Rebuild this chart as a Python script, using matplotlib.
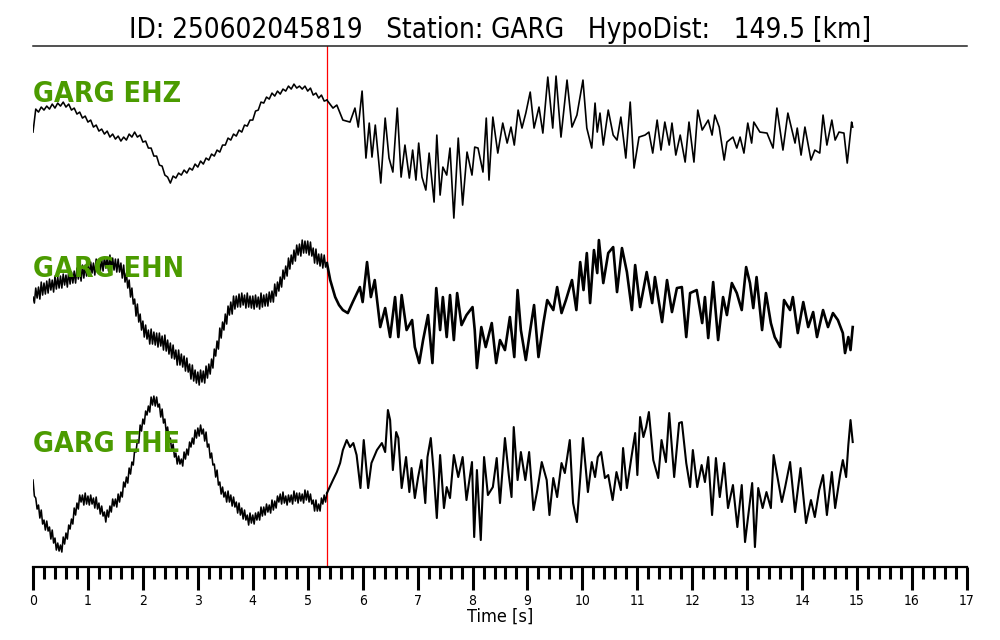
import numpy as np
import matplotlib
matplotlib.use('Agg')
import matplotlib.pyplot as plt
from matplotlib.ticker import MultipleLocator

plt.rcParams['font.family'] = ['DejaVu Sans']
plt.rcParams['font.stretch'] = 'condensed'

event_id = "250602045819"
station = "GARG"
hypo_dist = 149.5
channels = ["EHZ", "EHN", "EHE"]
p_pick = 5.35          # s
# sampling (s) of the quiet part before the pick, per channel
dt_pre = [0.05, 0.025, 0.025]

## amplitudes (arbitrary units, + is up)
ehz_pre = [-2, 21, 18, 23, 20, 24, 21, 26, 22, 27,
           24, 28, 23, 26, 20, 22, 16, 18, 12, 14,
           8, 10, 3, 5, -1, 1, -4, -1, -7, -4,
           -9, -6, -11, -7, -10, -4, -7, -2, -7, -5,
           -12, -11, -18, -18, -26, -26, -35, -36, -45, -47,
           -53, -46, -48, -43, -45, -40, -43, -38, -40, -34,
           -37, -31, -34, -28, -30, -24, -26, -20, -22, -15,
           -15, -8, -10, -4, -6, 0, -2, 5, 4, 10,
           10, 19, 20, 28, 27, 33, 31, 37, 34, 39,
           36, 41, 39, 44, 41, 46, 42, 44, 41, 44,
           39, 42, 35, 37, 32, 35, 29]
ehz_post_t = [5.35, 5.46, 5.53, 5.64, 5.77, 5.86, 5.92, 5.99, 6.06, 6.12,
              6.17, 6.23, 6.33, 6.41, 6.48, 6.55, 6.63, 6.70, 6.77, 6.85,
              6.91, 6.97, 7.02, 7.08, 7.15, 7.21, 7.30, 7.35, 7.41, 7.46,
              7.53, 7.59, 7.66, 7.74, 7.82, 7.90, 7.99, 8.04, 8.10, 8.19,
              8.25, 8.30, 8.37, 8.46, 8.55, 8.63, 8.70, 8.76, 8.83, 8.90,
              8.97, 9.05, 9.12, 9.21, 9.28, 9.37, 9.46, 9.52, 9.61, 9.72,
              9.81, 9.90, 10.01, 10.08, 10.17, 10.23, 10.27, 10.32, 10.38, 10.47,
              10.56, 10.63, 10.70, 10.79, 10.87, 10.94, 11.03, 11.14, 11.21, 11.28,
              11.36, 11.43, 11.50, 11.58, 11.63, 11.70, 11.78, 11.87, 11.94, 12.03,
              12.10, 12.18, 12.29, 12.36, 12.41, 12.49, 12.58, 12.63, 12.74, 12.81,
              12.87, 12.94, 13.01, 13.08, 13.12, 13.23, 13.36, 13.47, 13.54, 13.65,
              13.74, 13.87, 13.91, 13.98, 14.05, 14.16, 14.23, 14.32, 14.38, 14.45,
              14.54, 14.60, 14.67, 14.76, 14.82, 14.90, 14.92]
ehz_post_v = [30, 22, 25, 10, 8, 22, 3, 39, -28, 7,
              -27, 5, -53, 12, -28, -42, 22, -47, -15, -48,
              -20, -50, -13, -47, -60, -23, -72, -5, -65, -37,
              -45, -18, -88, -8, -75, -22, -45, -17, -18, -42,
              12, -50, 13, -23, 7, -13, 3, -15, 20, 2,
              17, 38, 2, 23, -3, 53, 2, 54, -7, 50,
              3, 15, 50, 2, -18, 27, -2, 17, -15, 20,
              -5, -10, 13, -28, 28, -38, -7, -5, -2, -23,
              10, -20, 8, -15, 7, -25, -5, -32, 8, -32,
              20, 0, 10, -5, 15, 3, -30, -12, -7, -18,
              -7, -23, 7, -13, 8, -2, -3, -18, 22, -20,
              17, -13, 2, -25, 3, -30, -20, -23, 15, -15,
              10, -10, -2, -3, -33, 8, 3]

ehn_pre = [8, 2, 17, 7, 18, 6, 23, 10, 22, 11,
           24, 12, 26, 15, 25, 13, 29, 16, 28, 17,
           29, 17, 31, 20, 30, 18, 34, 21, 33, 22,
           34, 22, 37, 26, 36, 24, 40, 27, 40, 29,
           41, 29, 43, 32, 42, 30, 46, 33, 45, 34,
           46, 34, 48, 37, 47, 34, 50, 36, 47, 35,
           46, 33, 46, 33, 42, 27, 40, 23, 32, 17,
           25, 8, 17, 1, 6, -11, 1, -17, -9, -25,
           -16, -32, -20, -34, -25, -39, -24, -39, -27, -40,
           -28, -42, -28, -41, -31, -45, -30, -46, -35, -49,
           -38, -53, -40, -54, -45, -60, -45, -60, -49, -62,
           -51, -66, -53, -67, -59, -74, -60, -76, -65, -78,
           -67, -80, -65, -77, -66, -78, -61, -73, -59, -69,
           -54, -63, -44, -51, -36, -44, -23, -33, -17, -25,
           -9, -19, -1, -10, 3, -9, 9, -4, 9, -2,
           11, -2, 12, 0, 10, -3, 12, -2, 9, -3,
           9, -4, 10, -2, 8, -4, 12, -2, 10, -1,
           11, -1, 13, 3, 14, 3, 21, 9, 23, 14,
           28, 18, 35, 26, 39, 29, 47, 36, 50, 41,
           55, 44, 60, 50, 61, 49, 65, 52, 64, 52,
           64, 50, 63, 49, 57, 42, 56, 41, 51, 39,
           51, 37, 50, 38]
ehn_post_t = [5.35, 5.41, 5.50, 5.57, 5.64, 5.73, 5.82, 5.95, 6.00, 6.08,
              6.15, 6.22, 6.32, 6.41, 6.50, 6.59, 6.65, 6.71, 6.80, 6.90,
              6.95, 7.03, 7.10, 7.19, 7.27, 7.34, 7.41, 7.46, 7.53, 7.59,
              7.66, 7.72, 7.80, 7.89, 8.00, 8.04, 8.08, 8.16, 8.24, 8.35,
              8.43, 8.50, 8.59, 8.68, 8.76, 8.82, 8.88, 8.97, 9.05, 9.12,
              9.20, 9.29, 9.36, 9.47, 9.54, 9.62, 9.70, 9.81, 9.89, 9.96,
              10.02, 10.08, 10.14, 10.21, 10.27, 10.30, 10.38, 10.47, 10.56, 10.63,
              10.72, 10.81, 10.90, 10.96, 11.05, 11.17, 11.27, 11.32, 11.45, 11.54,
              11.63, 11.72, 11.81, 11.89, 11.96, 12.08, 12.18, 12.23, 12.29, 12.38,
              12.47, 12.56, 12.63, 12.72, 12.81, 12.90, 12.98, 13.05, 13.11, 13.17,
              13.27, 13.34, 13.43, 13.50, 13.60, 13.67, 13.78, 13.83, 13.92, 14.02,
              14.11, 14.20, 14.27, 14.38, 14.47, 14.56, 14.65, 14.74, 14.78, 14.84,
              14.88, 14.92]
ehn_post_v = [42, 25, 8, 0, -5, -8, 3, 18, 3, 43,
              8, 25, -22, -3, -32, 8, -32, 10, -25, -15,
              -42, -58, -35, -10, -58, 17, -25, 8, -32, 10,
              -35, 12, -20, -10, -2, -25, -63, -22, -42, -18,
              -58, -35, -45, -12, -52, 15, -25, -55, -25, 0,
              -52, -18, 5, -5, 18, -8, 5, 25, -5, 43,
              15, 52, 2, 55, 32, 65, 22, 52, 58, 13,
              57, 33, -5, 40, -2, 33, 2, 28, -17, 25,
              -7, 17, 18, -32, 12, 15, -18, 8, -33, 23,
              -35, 8, -10, 22, 12, -5, 38, 22, -3, 28,
              -25, 12, -18, -32, -42, 5, -5, 8, -28, 3,
              -22, -7, -32, -5, -22, -8, -15, -28, -48, -32,
              -45, -22]

ehe_pre = [0, -16, -18, -29, -25, -38, -30, -44, -40, -50,
           -41, -51, -47, -59, -50, -63, -58, -70, -63, -71,
           -65, -72, -57, -64, -53, -59, -45, -49, -39, -44,
           -28, -35, -23, -29, -15, -22, -15, -25, -13, -24,
           -16, -25, -15, -24, -18, -28, -17, -29, -23, -34,
           -26, -36, -32, -42, -30, -37, -26, -32, -19, -26,
           -19, -27, -14, -22, -12, -17, -2, -7, 3, -3,
           12, 6, 18, 15, 30, 28, 40, 37, 55, 49,
           61, 56, 69, 65, 74, 68, 83, 75, 84, 74,
           83, 73, 76, 63, 71, 57, 61, 48, 53, 41,
           42, 29, 36, 23, 27, 16, 24, 16, 21, 14,
           28, 21, 31, 25, 38, 33, 42, 36, 50, 42,
           52, 44, 55, 46, 51, 39, 48, 33, 36, 22,
           27, 15, 16, 3, 10, -5, -2, -14, -7, -17,
           -12, -22, -11, -22, -15, -26, -17, -27, -22, -33,
           -23, -35, -28, -39, -30, -40, -35, -45, -33, -43,
           -35, -44, -33, -40, -32, -40, -27, -36, -27, -35,
           -24, -32, -25, -33, -20, -30, -21, -28, -16, -22,
           -14, -24, -12, -23, -16, -25, -15, -22, -15, -24,
           -11, -21, -13, -23, -13, -21, -14, -23, -10, -20,
           -11, -22, -14, -24, -20, -31, -20, -31, -24, -31,
           -18, -24, -15, -22]
ehe_post_t = [5.35, 5.46, 5.53, 5.59, 5.64, 5.71, 5.77, 5.83, 5.89, 5.96,
              6.02, 6.10, 6.16, 6.26, 6.35, 6.41, 6.46, 6.50, 6.55, 6.61,
              6.65, 6.71, 6.79, 6.85, 6.89, 6.95, 7.01, 7.07, 7.14, 7.18,
              7.24, 7.29, 7.35, 7.41, 7.48, 7.53, 7.59, 7.66, 7.74, 7.82,
              7.89, 7.99, 8.03, 8.08, 8.15, 8.21, 8.28, 8.37, 8.44, 8.50,
              8.59, 8.66, 8.71, 8.75, 8.82, 8.88, 8.96, 9.03, 9.11, 9.18,
              9.26, 9.35, 9.40, 9.47, 9.54, 9.62, 9.68, 9.77, 9.83, 9.90,
              9.96, 10.01, 10.10, 10.17, 10.23, 10.28, 10.34, 10.41, 10.47, 10.55,
              10.62, 10.70, 10.74, 10.81, 10.89, 10.96, 11.00, 11.05, 11.11, 11.16,
              11.21, 11.29, 11.38, 11.44, 11.52, 11.58, 11.67, 11.76, 11.81, 11.89,
              11.96, 12.01, 12.09, 12.17, 12.23, 12.29, 12.36, 12.43, 12.50, 12.58,
              12.65, 12.74, 12.82, 12.90, 12.96, 13.02, 13.09, 13.14, 13.20, 13.28,
              13.35, 13.43, 13.48, 13.55, 13.63, 13.69, 13.78, 13.87, 13.97, 14.07,
              14.16, 14.23, 14.31, 14.38, 14.45, 14.54, 14.60, 14.69, 14.74, 14.80,
              14.84, 14.88, 14.91, 14.92]
ehe_post_v = [-13, 0, 8, 17, 30, 40, 33, 37, 25, -8,
              40, -8, 17, 30, 37, 28, 70, 60, 10, 48,
              42, -8, 23, -12, 12, -18, 3, 20, -23, 23,
              42, 10, -38, 25, -28, -7, -18, 25, 3, 23,
              -20, 18, -57, 10, -60, 23, -15, -7, 22, -23,
              42, 5, -17, 53, 0, 28, 0, 28, -30, -10,
              18, 0, -35, 2, -17, 17, 7, 40, -23, -42,
              2, 42, -12, 18, 3, 23, 28, 2, 5, -20,
              8, -10, 32, -8, 22, 47, 5, 63, 43, 53,
              68, 20, 2, 40, 18, 67, 3, 57, 58, 17,
              -7, 30, -7, 15, -2, 23, -35, 22, -17, 17,
              -28, -5, -47, -5, -62, -35, -3, -67, -8, -28,
              -12, -28, 25, 3, -22, -7, 18, -32, 12, -43,
              -20, -37, -10, 5, -35, 8, -28, 5, 20, 3,
              35, 60, 43, 38]

traces = [(ehz_pre, ehz_post_t, ehz_post_v),
          (ehn_pre, ehn_post_t, ehn_post_v),
          (ehe_pre, ehe_post_t, ehe_post_v)]
offsets = [437, 262, 87]
post_lw = [1.2, 1.9, 1.5]   # the coda of EHN/EHE is fuzzier in the original

fig = plt.figure(figsize=(10, 6.4), dpi=100)
ax = fig.add_axes([0.033, 0.114, 0.934, 0.814])

for (pre, post_t, post_v), dt, off, lw, ch in zip(traces, dt_pre, offsets, post_lw, channels):
    t_pre = np.arange(len(pre)) * dt
    ax.plot(np.append(t_pre, post_t[0]), np.append(pre, post_v[0]) + off,
            color='black', lw=1.15, zorder=2)
    ax.plot(post_t, np.array(post_v) + off, color='black', lw=lw, zorder=2)
    ax.text(0, off + 28, f"{station} {ch}", color='#4b9b00', fontsize=20.5,
            fontweight='bold', ha='left', va='baseline', zorder=3)

ax.axvline(p_pick, color='red', lw=0.9, zorder=1)

ax.set_xlim(0, 17)
ax.set_ylim(0, 521)
ax.xaxis.set_major_locator(MultipleLocator(1))
ax.xaxis.set_minor_locator(MultipleLocator(0.2))
ax.tick_params(axis='x', which='major', direction='out', length=16.5, width=2.2,
               labelsize=10, pad=3)
ax.tick_params(axis='x', which='minor', direction='out', length=8.5, width=2.2)
ax.set_yticks([])
for s in ['left', 'right']:
    ax.spines[s].set_visible(False)
ax.spines['bottom'].set_linewidth(1.6)
ax.spines['top'].set_linewidth(1.1)
ax.spines['top'].set_color('#222222')
ax.set_xlabel("Time [s]", fontsize=13, labelpad=0)

fig.text(0.5, 1 - 38 / 640,
         f"ID: {event_id}   Station: {station}   HypoDist:   {hypo_dist} [km]",
         ha='center', va='baseline', fontsize=20)

fig.savefig('out.png', dpi=100)
